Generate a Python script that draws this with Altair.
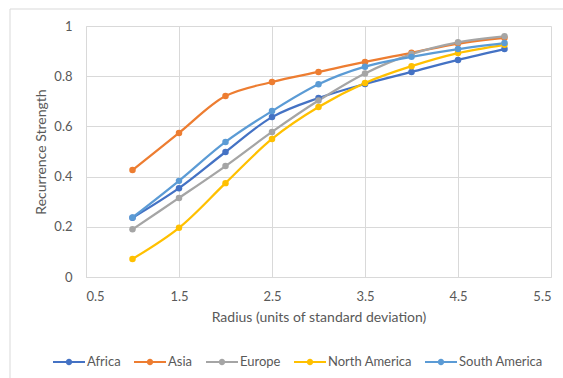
import altair as alt
import pandas as pd

radius = [1, 1.5, 2, 2.5, 3, 3.5, 4, 4.5, 5]
regions = ["Africa", "Asia", "Europe", "North America", "South America"]
africa = [0.236, 0.354, 0.498, 0.637, 0.713, 0.769, 0.817, 0.865, 0.908]
asia = [0.426, 0.574, 0.721, 0.777, 0.817, 0.857, 0.893, 0.93, 0.953]
europe = [0.19, 0.315, 0.442, 0.578, 0.703, 0.811, 0.888, 0.935, 0.959]
north_america = [0.072, 0.196, 0.374, 0.55, 0.677, 0.773, 0.84, 0.892, 0.925]
south_america = [0.237, 0.383, 0.538, 0.661, 0.768, 0.838, 0.877, 0.908, 0.932]
colors = ["#4472C4", "#ED7D31", "#A5A5A5", "#FFC000", "#5B9BD5"]
x_ticks = [0.5, 1.5, 2.5, 3.5, 4.5, 5.5]
y_ticks = [0, 0.2, 0.4, 0.6, 0.8, 1]

series = [africa, asia, europe, north_america, south_america]
rows = []
for name, vals in zip(regions, series):
    for r, v in zip(radius, vals):
        rows.append({"Radius": r, "Strength": v, "Region": name})
df = pd.DataFrame(rows)

FONT = "Lato"
GREY = "#595959"
GRID = "#D9D9D9"

legend_path = ("M-1,-0.07L1,-0.07L1,0.07L-1,0.07Z "
               "M-0.2,0A0.2,0.2 0 1,1 0.2,0A0.2,0.2 0 1,1 -0.2,0Z")

color = alt.Color(
    "Region:N",
    scale=alt.Scale(domain=regions, range=colors),
    legend=alt.Legend(
        title=None, orient="none", direction="horizontal",
        legendX=-33, legendY=320, padding=0,
        symbolType=legend_path, symbolSize=1024, symbolStrokeWidth=0,
        labelFont=FONT, labelFontSize=13, labelColor=GREY,
        labelOffset=2, columnPadding=13,
    ),
)

x = alt.X(
    "Radius:Q",
    scale=alt.Scale(domain=[0.5, 5.5], nice=False, zero=False),
    axis=alt.Axis(values=x_ticks, title="Radius (units of standard deviation)",
                  format=".1f", labelPadding=13, titlePadding=7),
)
y = alt.Y(
    "Strength:Q",
    scale=alt.Scale(domain=[0, 1], nice=False),
    axis=alt.Axis(values=y_ticks, title="Recurrence Strength", format=".1~f",
                  labelPadding=14, titlePadding=5),
)

border = alt.Chart(pd.DataFrame({"a": [0]})).mark_rect(
    fill=None, stroke=GRID, strokeWidth=1, clip=False
).encode(
    x=alt.value(-76), x2=alt.value(485),
    y=alt.value(-17), y2=alt.value(360),
)

lines = alt.Chart(df).mark_line(
    interpolate="catmull-rom", strokeWidth=2.25
).encode(x=x, y=y, color=color)

points = alt.Chart(df).mark_point(
    filled=True, size=42, opacity=1
).encode(x=x, y=y, color=color)

chart = alt.layer(border, lines, points).properties(
    width=465, height=251,
    padding={"left": 86, "top": 26, "right": 12, "bottom": 101},
    autosize=alt.AutoSizeParams(type="none"),
    background="white",
).configure_view(
    stroke=None
).configure_axis(
    grid=True, gridColor=GRID, gridWidth=1,
    domainColor=GRID, ticks=False,
    labelFont=FONT, labelFontSize=13, labelColor=GREY,
    titleFont=FONT, titleFontSize=14, titleColor=GREY, titleFontWeight="normal",
)

chart.save("out.html", embed_options={"renderer": "svg", "actions": False})
